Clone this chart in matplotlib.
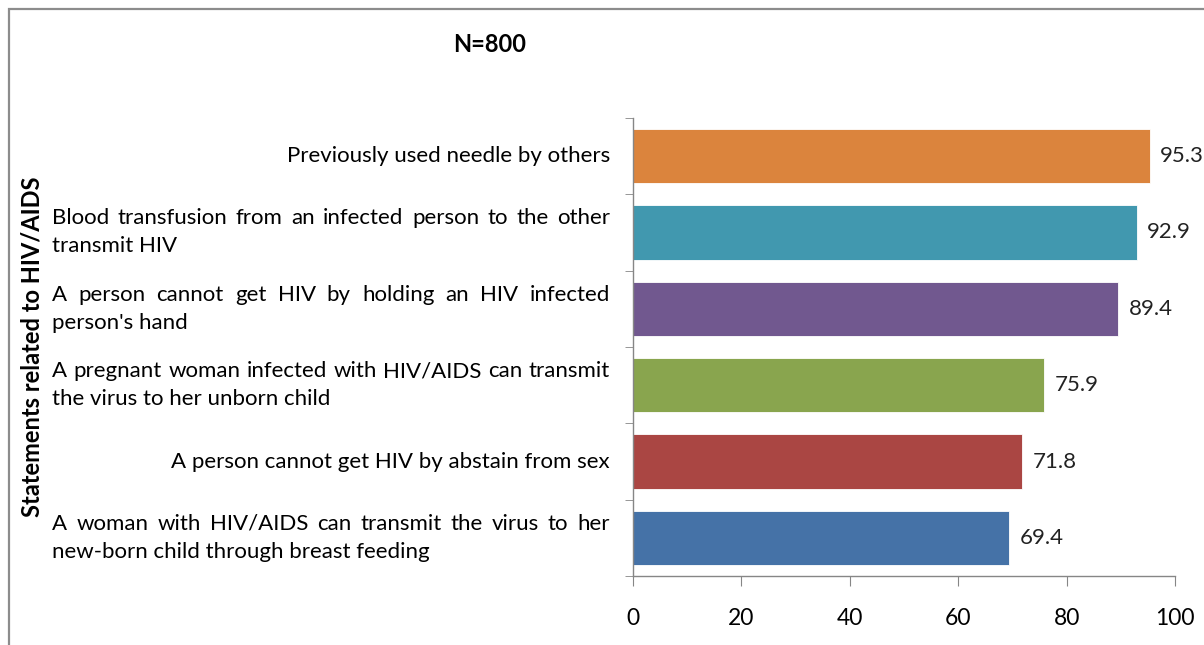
import matplotlib
matplotlib.use("Agg")
import matplotlib.pyplot as plt
import matplotlib.transforms as mtransforms
from matplotlib.patches import Rectangle

# Data (bottom to top)
statements = [
    "A woman with HIV/AIDS can transmit the virus to her\nnew-born child through breast feeding",
    "A person cannot get HIV by abstain from sex",
    "A pregnant woman infected with HIV/AIDS can transmit\nthe virus to her unborn child",
    "A person cannot get HIV by holding an HIV infected\nperson's hand",
    "Blood transfusion from an infected person to the other\ntransmit HIV",
    "Previously used needle by others",
]
percent = [69.4, 71.8, 75.9, 89.4, 92.9, 95.3]
bar_colors = ["#4572A7", "#AA4643", "#89A54E", "#71588F", "#4198AF", "#DB843D"]
x_ticks = [0, 20, 40, 60, 80, 100]

plt.rcParams['font.family'] = ['Lato', 'DejaVu Sans']
axis_gray = "#868686"
W, H = 1204, 645

fig = plt.figure(figsize=(12.04, 6.45), dpi=100)
ax = fig.add_axes([633 / W, 69 / H, 542 / W, 458 / H])

pos = list(range(len(percent)))
ax.barh(pos, percent, height=0.71, color=bar_colors, edgecolor="white", linewidth=0.6)

for p, v in zip(pos, percent):
    ax.text(v + 2.0, p, f"{v}", va="center", ha="left", fontsize=16, color="#222222")

ax.set_xlim(0, 100)
ax.set_ylim(-0.5, len(percent) - 0.5)
ax.set_xticks(x_ticks)
ax.set_xticklabels([str(t) for t in x_ticks], fontsize=16.5)
ax.tick_params(axis="x", direction="out", length=7, color=axis_gray, pad=16)

# tick marks at category boundaries, labels drawn by hand (justified like the original)
ax.set_yticks([])
ax.set_yticks([b - 0.5 for b in range(len(percent) + 1)], minor=True)
ax.tick_params(axis="y", which="minor", direction="out", length=6, color=axis_gray)

for s in ["top", "right"]:
    ax.spines[s].set_visible(False)
for s in ["left", "bottom"]:
    ax.spines[s].set_color(axis_gray)
    ax.spines[s].set_linewidth(1.0)

# category labels: x in figure fraction, y in data
trans = mtransforms.blended_transform_factory(fig.transFigure, ax.transData)
renderer = fig.canvas.get_renderer()
left_px, right_px = 52, 610
line_off = 14 / (458 / len(percent))   # half line spacing in data units

for p, label in zip(pos, statements):
    lines = label.split("\n")
    if len(lines) == 1:
        ax.text(right_px / W, p, label, transform=trans, ha="right", va="center", fontsize=16)
        continue
    # first line justified across the full width
    words = lines[0].split()
    y1 = p + line_off
    texts = [ax.text(0, y1, w, transform=trans, ha="left", va="center", fontsize=16) for w in words]
    widths = [t.get_window_extent(renderer).width for t in texts]
    gap = (right_px - left_px - sum(widths)) / (len(words) - 1)
    x = left_px
    for t, w in zip(texts, widths):
        t.set_x(x / W)
        x += w + gap
    # second line left aligned
    ax.text(left_px / W, p - line_off, lines[1], transform=trans, ha="left", va="center", fontsize=16)

fig.text(490 / W, 1 - 45 / H, "N=800", ha="center", va="center",
         fontsize=17, fontweight="bold")
fig.text(32 / W, 1 - 347 / H, "Statements related to HIV/AIDS", rotation=90,
         ha="center", va="center", fontsize=17, fontweight="bold")

# outer chart border (cut at the right and bottom)
fig.patches.append(Rectangle((9 / W, -0.2), 2, 1.2 - 9 / H,
                             transform=fig.transFigure, fill=False,
                             edgecolor="#8c8c8c", linewidth=1.6))

fig.savefig("out.png", dpi=100)
